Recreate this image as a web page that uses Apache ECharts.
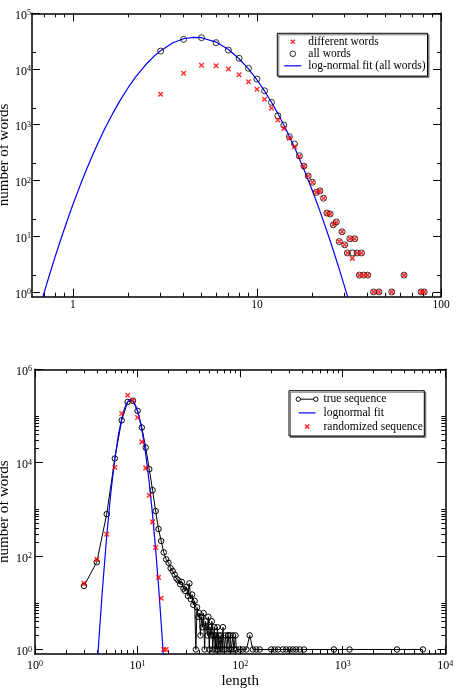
<!DOCTYPE html>
<html><head><meta charset="utf-8">
<script src="https://cdn.jsdelivr.net/npm/echarts@6/dist/echarts.min.js"></script>
<style>html,body{margin:0;padding:0;background:#fff;}#c{width:456px;height:690px;}</style>
</head><body><div id="c"></div>
<script>
// ---------- top panel data ----------
const allWordsLen = [3,4,5,6,7,8,9,10,11,12,13,14,15,16,17,18,19,20,21,22,23,24,25,26,27,28,29,30,31,32,33,34,35,36,37,38,40,43,46,54,63,78,81];
const allWordsCount = [21000,34100,36500,29700,21900,15600,10300,6600,4070,2520,1450,988,610,451,277,181,120,93,61,65,48,26,25,16,18,8,12,7,5,9,5,9,5,2,5,2,2,1,1,1,2,1,1];
const diffWordsLen = [3,4,5,6,7,8,9,10,11,12,13,14,15,16,17,18,19,20,21,22,23,24,25,26,27,28,29,30,31,32,33,34,35,36,37,38,40,43,46,54,63,78,81];
const diffWordsCount = [3520,8370,11650,11480,10000,7900,5920,4320,2860,1970,1215,860,570,403,270,181,120,93,61,65,48,26,25,16,18,8,12,7,5,9,4,9,5,2,5,2,2,1,1,1,2,1,1];
const topFitLen = [0.68,0.7,0.75,0.8,0.85,0.9,0.95,1,1.1,1.2,1.3,1.4,1.5,1.65,1.8,2,2.2,2.5,2.75,3,3.5,4,4.5,5,6,7,8,9,10,11,12,13,14,15,16,18,20,22,25,28,30,32];
const topFitVal = [0.72,1.0,2.12,4.2,7.8,13.6,22.8,36.6,84.3,172,320,548,881,1614,2683,4670,7280,12160,16740,21380,29560,34910,37070,36470,30410,22340,15290,10030,6410,4040,2530,1585,990,622,393,158,65.9,28.2,8.28,2.57,1.22,0.59];

// ---------- bottom panel data ----------
const trueLen = [3,4,5,6,7,8,9,10,11,12,13,14,15,16,17,18,19,20,21,22,23,24,25,26,27,28,29,30,31,32,33,34,35,36,37,38,39,40,41,42,43,44,45,46,47,48,49,50,51,52,53,54,55,56,57,58,59,60,61,62,64,65,67,68,70,72,74,76,77,79,80,82,85,87,90,92,99,106,115,124,133,144,155,201,217,234,261,281,304,327,352,380,419,821,1167,3375,6050];
const trueCount = [23,74,790,12300,81000,200000,212000,129000,56600,21100,7250,2580,920,380,210,120,85,72,55,48,40,33,30,25,28,20,18,22,14,26,12,15,9,11,1,8,5,6,2,5,3,6,1,4,3,2,5,1,3,2,4,1,2,3,1,2,1,3,1,2,1,2,1,3,1,2,1,2,2,1,2,1,2,1,2,1,1,1,1,2,1,1,1,1,1,1,1,1,1,1,1,1,1,1,1,1,1];
const randLen = [3,4,5,6,7,8,9,10,11,12,13,14,15,16,17,18,19];
const randCount = [26,85,294,7900,113000,279000,218000,93000,27900,7740,2000,540,153,35,12.5,1,1];
const botFitLen = [4.0,4.2,4.5,5,5.5,6,6.5,7,7.5,8,8.5,9,9.5,10,10.5,11,11.5,12,13,14,15,16,17,17.5,18];
const botFitVal = [0.31,1.65,14.7,269,2380,12000,38800,88100,151000,203000,225000,212000,174000,127000,84000,50900,28900,15400,3720,764,139,23.4,3.6,1.40,0.53];

// ---------- ticks ----------
const topXMajor = [1,10,100];
const topXMinor = [0.7,0.8,0.9,2,3,4,5,6,7,8,9,20,30,40,50,60,70,80,90];
const topYMajor = [1,10,100,1000,10000,100000];
const topYMinor = [2,20,200,2000,20000];
const botXMajor = [1,10,100,1000,10000];
const botXMinor = [2,3,4,5,6,7,8,9,20,30,40,50,60,70,80,90,200,300,400,500,600,700,800,900,2000,3000,4000,5000,6000,7000,8000,9000];
const botYMajor = [1,100,10000,1000000];
const botYMinor = [2,3,4,5,6,7,8,9,10,200,300,400,500,600,700,800,900,1000,20000,30000,40000,50000,60000,70000,80000,90000,100000];

const L = Math.log10;
const pts = (xs, ys) => xs.map((x, i) => [L(x), L(ys[i])]);
const FONT = 'Liberation Serif';
const rich = {
  b: {fontSize: 12, lineHeight: 12, verticalAlign: 'bottom', fontFamily: FONT, color: '#000'},
  s: {fontSize: 8, lineHeight: 17, verticalAlign: 'middle', fontFamily: FONT, color: '#000'}
};
const supFmt = v => '{b|10}{s|' + Math.round(v) + '}';
const plainFmt = v => '' + Math.round(Math.pow(10, v));
const LINE = {color: '#000', width: 1.5};

function axisSet(dim, g, min, max, major, minor, fmt, margin, name, nameGap, nameSize) {
  const pos = dim === 'x' ? ['bottom', 'top'] : ['left', 'right'];
  const base = {gridIndex: g, type: 'value', min: min, max: max, splitLine: {show: false}, silent: true};
  const maj = major.map(L), mnr = minor.map(L);
  return [
    Object.assign({}, base, {
      position: pos[0],
      axisLine: {show: true, onZero: false, lineStyle: LINE},
      axisTick: {show: true, inside: true, length: 8, customValues: maj, lineStyle: {color: '#000', width: 1}},
      axisLabel: {show: true, customValues: maj, formatter: fmt, margin: margin, rich: rich,
                  fontFamily: FONT, fontSize: 11.5, color: '#000'},
      name: name, nameLocation: 'middle', nameGap: nameGap, nameMoveOverlap: false,
      nameTextStyle: {fontFamily: FONT, fontSize: nameSize, color: '#000'}
    }),
    Object.assign({}, base, {
      position: pos[1],
      axisLine: {show: true, onZero: false, lineStyle: LINE},
      axisTick: {show: true, inside: true, length: 8, customValues: maj, lineStyle: {color: '#000', width: 1}},
      axisLabel: {show: false}
    }),
    Object.assign({}, base, {
      position: pos[0],
      axisLine: {show: false, onZero: false},
      axisTick: {show: true, inside: true, length: 4, customValues: mnr, lineStyle: {color: '#000', width: 1}},
      axisLabel: {show: false}
    }),
    Object.assign({}, base, {
      position: pos[1],
      axisLine: {show: false, onZero: false},
      axisTick: {show: true, inside: true, length: 4, customValues: mnr, lineStyle: {color: '#000', width: 1}},
      axisLabel: {show: false}
    })
  ];
}

const xAxes = [].concat(
  axisSet('x', 0, L(0.6), 2, topXMajor, topXMinor, plainFmt, 2, '', 0, 15),
  axisSet('x', 1, 0, 4, botXMajor, botXMinor, supFmt, 1, 'length', 20, 15)
);
const yAxes = [].concat(
  axisSet('y', 0, L(0.82), 5, topYMajor, topYMinor, supFmt, 1, 'number of words', 20, 15),
  axisSet('y', 1, L(0.8), 6, botYMajor, botYMinor, supFmt, 3, 'number of words', 23, 15)
);

const X_SYM = 'path://M0,0L10,10M10,0L0,10';
const legendCommon = {
  orient: 'vertical', itemHeight: 12, selectedMode: false,
  textStyle: {fontFamily: FONT, fontSize: 11.5, color: '#000', lineHeight: 12},
  backgroundColor: '#fff', borderColor: '#000', borderWidth: 1, borderRadius: 0,
  shadowColor: '#777', shadowOffsetX: 1.5, shadowOffsetY: 1.5, shadowBlur: 0
};

const option = {
  animation: false,
  backgroundColor: '#fff',
  textStyle: {fontFamily: FONT},
  grid: [
    {left: 32, top: 13.3, width: 409, height: 283.4, containLabel: false, outerBoundsMode: 'none'},
    {left: 35, top: 369.3, width: 410.3, height: 284.7, containLabel: false, outerBoundsMode: 'none'}
  ],
  xAxis: xAxes,
  yAxis: yAxes,
  legend: [
    Object.assign({}, legendCommon, {
      left: 277.3, top: 33.3, padding: [0, 2, 1.8, 2.5], itemWidth: 21, itemGap: -5,
      data: [
        {name: 'different words', icon: 'path://M0,0M21,12M8.5,4L12.5,8M12.5,4L8.5,8',
         itemStyle: {color: 'none', borderColor: '#ff0000', borderWidth: 1.5}},
        {name: 'all words', icon: 'path://M0,0M21,12M7.7,6A2.8,2.8,0,1,1,13.3,6A2.8,2.8,0,1,1,7.7,6Z',
         itemStyle: {color: 'none', borderColor: '#000', borderWidth: 1}},
        {name: 'log-normal fit (all words)', icon: 'path://M0,0M21,12M2,6L19,6',
         itemStyle: {color: 'none', borderColor: '#0000ff', borderWidth: 1.2}}
      ]
    }),
    Object.assign({}, legendCommon, {
      left: 289, top: 390.7, padding: [0, 1.5, 0.9, 3], itemWidth: 24, itemGap: -3.3,
      data: [
        {name: 'true sequence', icon: 'path://M0,0M24,12M1.6,6A2.2,2.2,0,1,1,6,6A2.2,2.2,0,1,1,1.6,6ZM6,6L19.1,6M19.1,6A2.2,2.2,0,1,1,23.5,6A2.2,2.2,0,1,1,19.1,6Z',
         itemStyle: {color: 'none', borderColor: '#000', borderWidth: 1}},
        {name: 'lognormal fit', icon: 'path://M0,0M24,12M4.3,6L21,6',
         itemStyle: {color: 'none', borderColor: '#0000ff', borderWidth: 1.2}},
        {name: 'randomized sequence', icon: 'path://M0,0M24,12M10.7,4L14.7,8M14.7,4L10.7,8',
         itemStyle: {color: 'none', borderColor: '#ff0000', borderWidth: 1.5}}
      ]
    })
  ],
  series: [
    {name: 'log-normal fit (all words)', type: 'line', xAxisIndex: 0, yAxisIndex: 0,
     data: pts(topFitLen, topFitVal), symbol: 'none', clip: true, z: 2, silent: true,
     lineStyle: {color: '#0000ff', width: 1.2}, itemStyle: {color: '#0000ff'}},
    {name: 'all words', type: 'scatter', xAxisIndex: 0, yAxisIndex: 0,
     data: pts(allWordsLen, allWordsCount), symbol: 'circle', symbolSize: 6, z: 3, silent: true,
     itemStyle: {color: 'rgba(0,0,0,0)', borderColor: '#000', borderWidth: 1}},
    {name: 'different words', type: 'scatter', xAxisIndex: 0, yAxisIndex: 0,
     data: pts(diffWordsLen, diffWordsCount), symbol: X_SYM, symbolSize: 4.5, z: 4, silent: true,
     itemStyle: {color: 'none', borderColor: '#ff0000', borderWidth: 1.5}},

    {name: 'true sequence', type: 'line', xAxisIndex: 4, yAxisIndex: 4,
     data: pts(trueLen, trueCount), symbol: 'circle', symbolSize: 5.5, showSymbol: true, clip: true, z: 2, silent: true,
     lineStyle: {color: '#000', width: 1}, itemStyle: {color: 'rgba(0,0,0,0)', borderColor: '#000', borderWidth: 1}},
    {name: 'lognormal fit', type: 'line', xAxisIndex: 4, yAxisIndex: 4,
     data: pts(botFitLen, botFitVal), symbol: 'none', clip: true, z: 3, silent: true,
     lineStyle: {color: '#0000ff', width: 1.2}, itemStyle: {color: '#0000ff'}},
    {name: 'randomized sequence', type: 'scatter', xAxisIndex: 4, yAxisIndex: 4,
     data: pts(randLen, randCount), symbol: X_SYM, symbolSize: 4.5, z: 4, silent: true,
     itemStyle: {color: 'none', borderColor: '#ff0000', borderWidth: 1.5}}
  ]
};
const chart = echarts.init(document.getElementById('c'), null, {renderer: 'canvas'});
chart.setOption(option);
</script></body></html>
